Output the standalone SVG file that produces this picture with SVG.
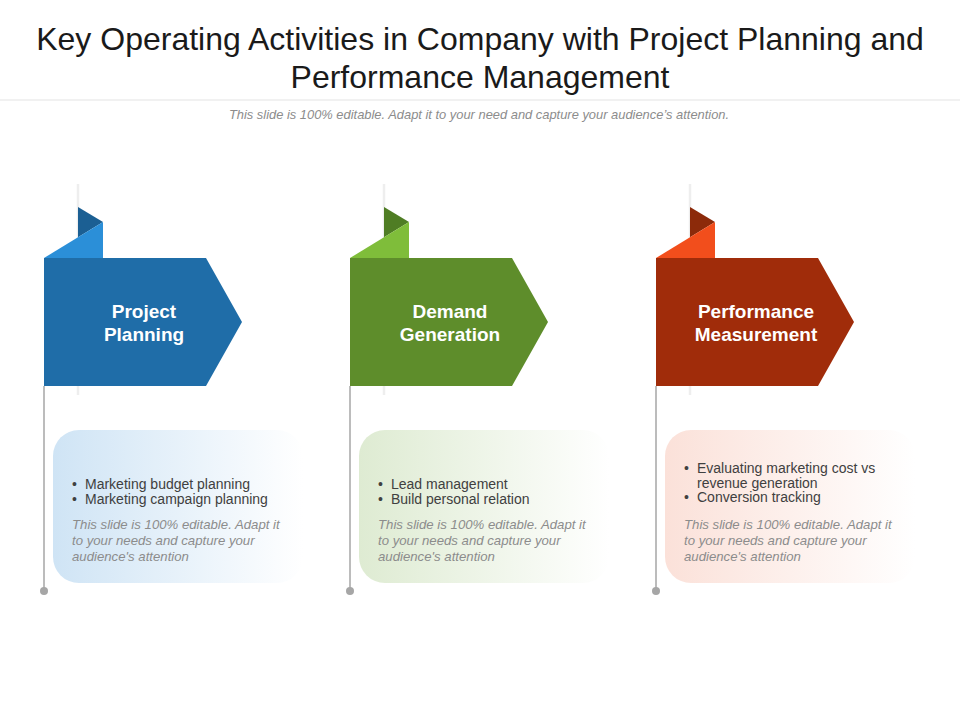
<svg xmlns="http://www.w3.org/2000/svg" width="960" height="720" viewBox="0 0 960 720">
<style>
.title{font-family:"Liberation Sans",Arial,sans-serif;font-size:32px;fill:#1a1a1a;text-anchor:middle}
.sub{font-family:"Liberation Sans",Arial,sans-serif;font-size:12.9px;font-style:italic;fill:#8c8c8c;text-anchor:middle}
.head{font-family:"Liberation Sans",Arial,sans-serif;font-size:19px;font-weight:bold;fill:#ffffff;text-anchor:middle}
.bul{font-family:"Liberation Sans",Arial,sans-serif;font-size:14px;fill:#404040}
.note{font-family:"Liberation Sans",Arial,sans-serif;font-size:13.2px;font-style:italic;fill:#8c8c8c}
.pole{stroke:#a6a6a6;stroke-width:1.5}
.shadow{stroke:#eeeeee;stroke-width:2.5}
.dot{fill:#a6a6a6}
</style>
<defs>
<linearGradient id="gBlue" x1="0" y1="0" x2="1" y2="0"><stop offset="0" stop-color="#cfe4f5"/><stop offset="1" stop-color="#ffffff"/></linearGradient>
<linearGradient id="gGreen" x1="0" y1="0" x2="1" y2="0"><stop offset="0" stop-color="#deebd2"/><stop offset="1" stop-color="#ffffff"/></linearGradient>
<linearGradient id="gRed" x1="0" y1="0" x2="1" y2="0"><stop offset="0" stop-color="#fbe1d9"/><stop offset="1" stop-color="#ffffff"/></linearGradient>
</defs>
<rect width="960" height="720" fill="#ffffff"/>
<text class="title" x="480" y="50">Key Operating Activities in Company with Project Planning and</text>
<text class="title" x="480" y="88">Performance Management</text>
<line x1="0" y1="100" x2="960" y2="100" stroke="#ececec" stroke-width="1.5"/>
<text class="sub" x="479" y="119">This slide is 100% editable. Adapt it to your need and capture your audience’s attention.</text>

<g id="connectors">
<line class="shadow" x1="78" y1="184" x2="78" y2="395"/>
<line class="pole" x1="44" y1="386" x2="44" y2="591"/>
<line class="shadow" x1="384" y1="184" x2="384" y2="395"/>
<line class="pole" x1="350" y1="386" x2="350" y2="591"/>
<line class="shadow" x1="690" y1="184" x2="690" y2="395"/>
<line class="pole" x1="656" y1="386" x2="656" y2="591"/>
<circle class="dot" cx="44" cy="591" r="4"/>
<circle class="dot" cx="350" cy="591" r="4"/>
<circle class="dot" cx="656" cy="591" r="4"/>
</g>

<g id="node-project-planning">
<polygon points="78,207 103,222 78,237.3" fill="#1b5f93"/>
<polygon points="44,258 103,222 103,258" fill="#2b8fd8"/>
<polygon points="44,258 206,258 242,322 206,386 44,386" fill="#1f6da8"/>
<text class="head" x="144" y="318">Project</text>
<text class="head" x="144" y="341">Planning</text>
</g>
<g id="card-project-planning">
<rect x="53" y="430" width="250" height="153" rx="26" fill="url(#gBlue)"/>
<text class="bul" x="72" y="489">•</text><text class="bul" x="85" y="489">Marketing budget planning</text>
<text class="bul" x="72" y="504">•</text><text class="bul" x="85" y="504">Marketing campaign planning</text>
<text class="note" x="72" y="529">This slide is 100% editable. Adapt it</text>
<text class="note" x="72" y="545">to your needs and capture your</text>
<text class="note" x="72" y="561">audience's attention</text>
</g>

<g id="node-demand-generation">
<polygon points="384,207 409,222 384,237.3" fill="#4f7d24"/>
<polygon points="350,258 409,222 409,258" fill="#7fbd3a"/>
<polygon points="350,258 512,258 548,322 512,386 350,386" fill="#5e8d2b"/>
<text class="head" x="450" y="318">Demand</text>
<text class="head" x="450" y="341">Generation</text>
</g>
<g id="card-demand-generation">
<rect x="359" y="430" width="250" height="153" rx="26" fill="url(#gGreen)"/>
<text class="bul" x="378" y="489">•</text><text class="bul" x="391" y="489">Lead management</text>
<text class="bul" x="378" y="504">•</text><text class="bul" x="391" y="504">Build personal relation</text>
<text class="note" x="378" y="529">This slide is 100% editable. Adapt it</text>
<text class="note" x="378" y="545">to your needs and capture your</text>
<text class="note" x="378" y="561">audience's attention</text>
</g>

<g id="node-performance-measurement">
<polygon points="690,207 715,222 690,237.3" fill="#8c2a0a"/>
<polygon points="656,258 715,222 715,258" fill="#f24e1c"/>
<polygon points="656,258 818,258 854,322 818,386 656,386" fill="#a02c0a"/>
<text class="head" x="756" y="318">Performance</text>
<text class="head" x="756" y="341">Measurement</text>
</g>
<g id="card-performance-measurement">
<rect x="665" y="430" width="250" height="153" rx="26" fill="url(#gRed)"/>
<text class="bul" x="684" y="473">•</text><text class="bul" x="697" y="473">Evaluating marketing cost vs</text>
<text class="bul" x="697" y="488">revenue generation</text>
<text class="bul" x="684" y="502">•</text><text class="bul" x="697" y="502">Conversion tracking</text>
<text class="note" x="684" y="529">This slide is 100% editable. Adapt it</text>
<text class="note" x="684" y="545">to your needs and capture your</text>
<text class="note" x="684" y="561">audience's attention</text>
</g>
</svg>
